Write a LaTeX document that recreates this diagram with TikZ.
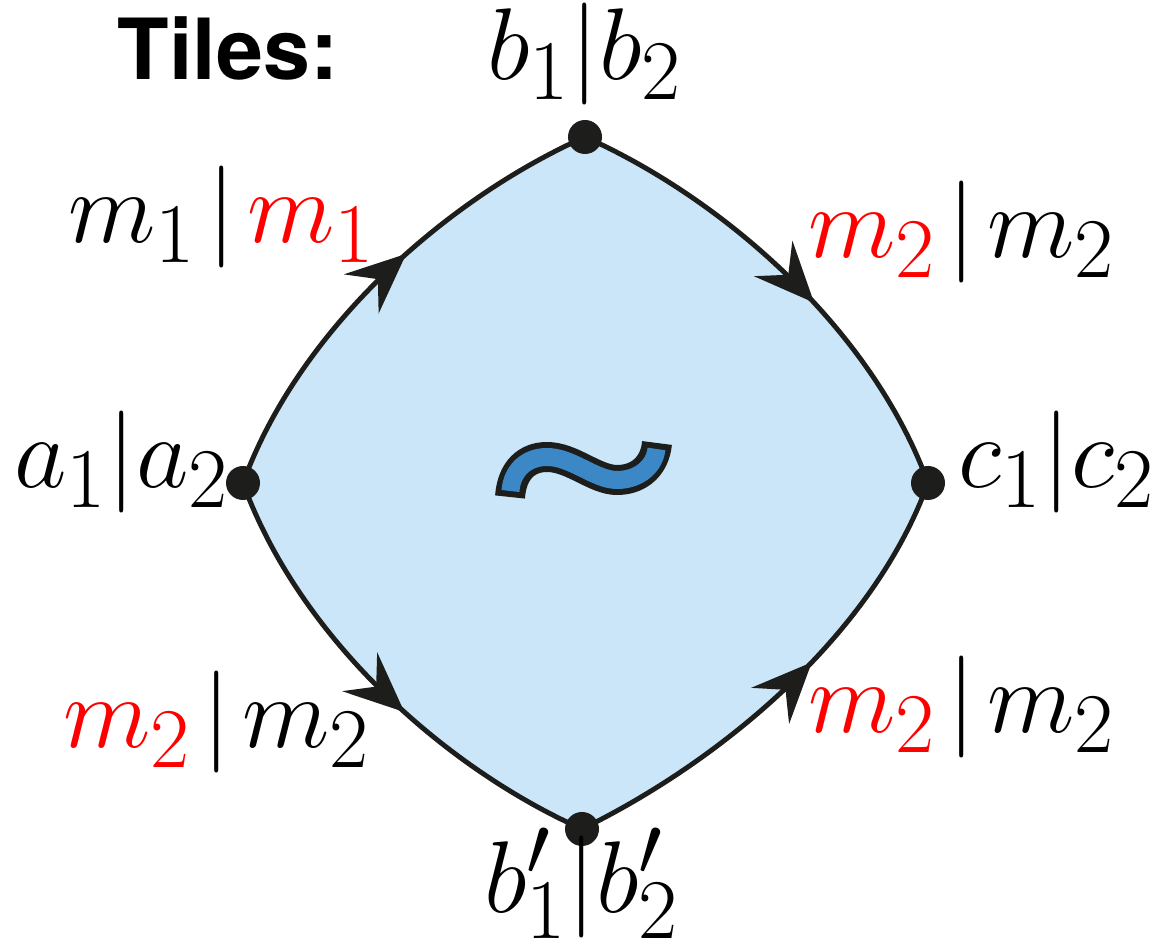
\documentclass[tikz,border=0pt]{standalone}
\usepackage{fontspec}
\newfontfamily\headsans{TeX Gyre Heros}
\usetikzlibrary{arrows.meta, decorations.markings, backgrounds}
\definecolor{ink}{HTML}{1D1D1B}
\definecolor{tilefill}{HTML}{CAE6F8}
\definecolor{tildeblue}{HTML}{3C87C6}
\definecolor{mred}{HTML}{FF0000}

\newcommand{\sep}{\mskip2mu|\mskip2mu}

\tikzset{
  vertex/.style={circle, fill=ink, minimum size=3.4mm, inner sep=0pt},
  edge/.style={draw=ink, line width=1.4pt, postaction={decorate},
    decoration={markings, mark=at position 0.57 with
      {\arrow{Stealth[length=6mm, width=5.2mm, inset=2.2mm]}}}},
  lab/.style={font=\fontsize{24.88}{30}\selectfont, scale=1.166,
    inner sep=0pt, anchor=base},
  heading/.style={font=\fontsize{24}{28}\selectfont\headsans\bfseries,
    inner sep=0pt, anchor=base},
}

\begin{document}
\begin{tikzpicture}[x=0.1mm, y=0.1mm]
  \useasboundingbox (0,0) rectangle (1176,946);

  % ── Corner points of the tile ───────────────────────────────────────────
  \node[vertex] (a)  at (243,463) {};
  \node[vertex] (b)  at (585,809) {};
  \node[vertex] (c)  at (928,463) {};
  \node[vertex] (bp) at (582,117) {};

  % ── Tile face and its four sides ────────────────────────────────────────
  \begin{scope}[on background layer]
    \fill[tilefill] (a.center)
      to[out=70,in=204,out distance=16.5mm,in distance=15mm] (b.center)
      to[out=-24,in=110,out distance=15mm,in distance=16.5mm] (c.center)
      to[out=250,in=26,out distance=16.5mm,in distance=15mm] (bp.center)
      to[out=156,in=-70,out distance=15mm,in distance=16.5mm] (a.center)
      -- cycle;
    \draw[edge] (a.center)
      to[out=70,in=204,out distance=16.5mm,in distance=15mm] (b.center);
    \draw[edge] (b.center)
      to[out=-24,in=110,out distance=15mm,in distance=16.5mm] (c.center);
    \draw[edge] (a.center)
      to[out=-70,in=156,out distance=16.5mm,in distance=15mm] (bp.center);
    \draw[edge] (bp.center)
      to[out=26,in=250,out distance=15mm,in distance=16.5mm] (c.center);
  \end{scope}

  % ── Tilde in the middle ─────────────────────────────────────────────────
  \draw[ink, line width=3mm, line join=round]
    (510,449) .. controls (512,476) and (527,489) .. (547,489)
    .. controls (572,489) and (595,466) .. (617,466)
    .. controls (640,466) and (655,481) .. (657,503);
  \draw[tildeblue, line width=1.8mm, line join=round,
        shorten <=0.6mm, shorten >=0.6mm]
    (510,449) .. controls (512,476) and (527,489) .. (547,489)
    .. controls (572,489) and (595,466) .. (617,466)
    .. controls (640,466) and (655,481) .. (657,503);

  % ── Labels ──────────────────────────────────────────────────────────────
  \node[heading] (title) at (228,866) {Tiles:};
  \node[lab] (lb)   at (585,866) {$b_1|b_2$};
  \node[lab] (la)   at (122,458) {$a_1|a_2$};
  \node[lab] (lc)   at (1057,458) {$c_1|c_2$};
  \node[lab] (lbp)  at (582,33)  {$b'_1|b'_2$};
  \node[lab] (lab)  at (222,703) {$m_1 \sep \textcolor{mred}{m_1}$};
  \node[lab] (lbc)  at (962,688) {$\textcolor{mred}{m_2} \sep m_2$};
  \node[lab] (labp) at (217,198) {$\textcolor{mred}{m_2} \sep m_2$};
  \node[lab] (lbpc) at (962,213) {$\textcolor{mred}{m_2} \sep m_2$};
\end{tikzpicture}
\end{document}
